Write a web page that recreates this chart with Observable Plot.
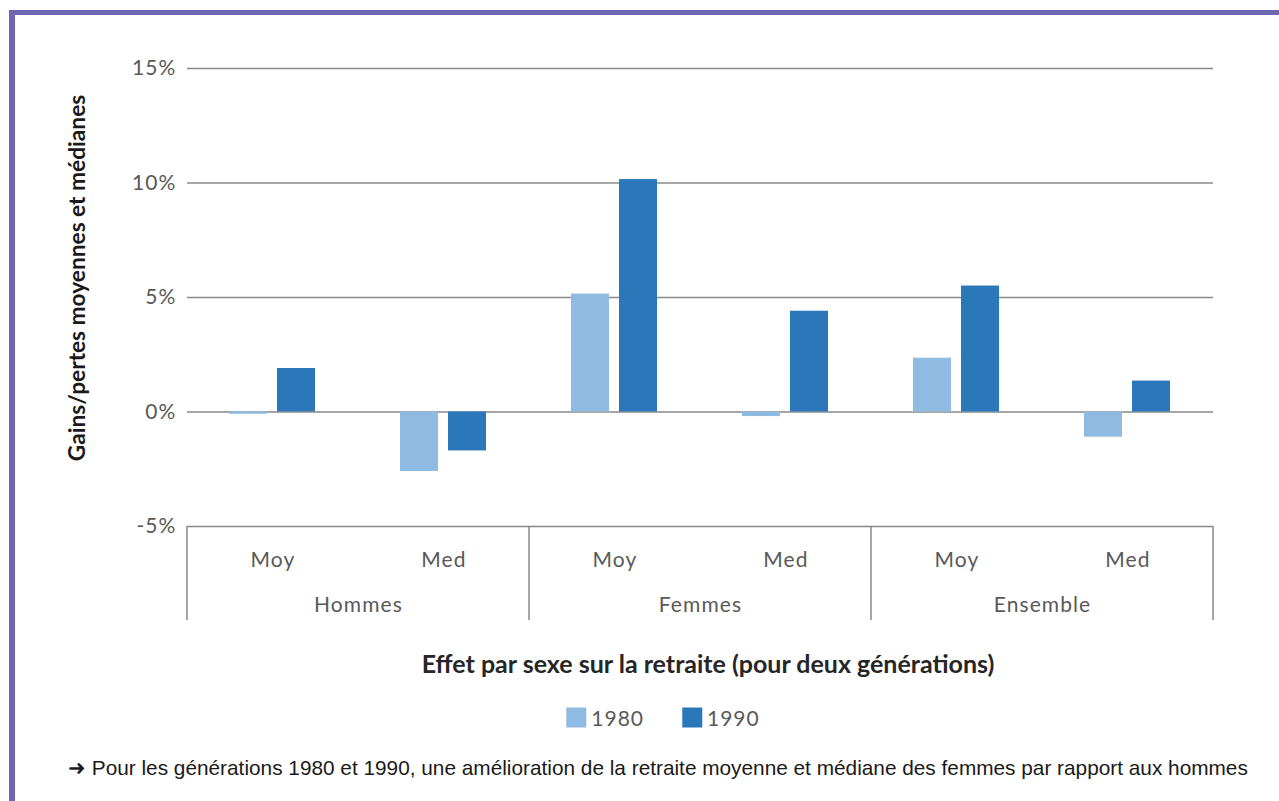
<!DOCTYPE html>
<html>
<head>
<meta charset="utf-8">
<script src="https://cdn.jsdelivr.net/npm/d3@7"></script>
<script src="https://cdn.jsdelivr.net/npm/@observablehq/plot@0.6"></script>
<style>
  html, body { margin: 0; padding: 0; background: #fff; }
  #page { position: relative; width: 1279px; height: 801px; overflow: hidden; background: #fff; }
  #borderTop { position: absolute; left: 9px; top: 10px; width: 1270px; height: 5px; background: #6e67b4; }
  #borderLeft { position: absolute; left: 9px; top: 10px; width: 6px; height: 791px; background: #6e67b4; }
  #chart { position: absolute; left: 0; top: 0; }
  #ylabel { position: absolute; left: 76px; top: 278px; transform: translate(-50%, -50%) rotate(-90deg);
            white-space: nowrap; font-family: Lato, sans-serif; font-weight: bold; font-size: 22.7px; color: #1a1a1a; }
  #xtitle { position: absolute; left: 708px; top: 663px; transform: translate(-50%, -50%);
            white-space: nowrap; font-family: Lato, sans-serif; font-weight: bold; font-size: 25px; color: #262626; }
  #legend { position: absolute; left: 663px; top: 717px; transform: translate(-50%, -50%);
            display: flex; align-items: center; font-family: Lato, sans-serif; font-size: 21px; letter-spacing: 1px; color: #595959; white-space: nowrap; }
  #legend .item { display: flex; align-items: center; margin: 0 19px; }
  #legend .sw { width: 20px; height: 20px; margin-right: 5px; }
  #caption { position: absolute; left: 68px; top: 768px; transform: translateY(-50%);
             white-space: nowrap; font-family: "Liberation Sans", Arial, sans-serif; font-size: 20.8px; color: #1a1a1a; }
</style>
</head>
<body>
<div id="page">
  <div id="borderTop"></div>
  <div id="borderLeft"></div>
  <div id="chart"></div>
  <div id="ylabel">Gains/pertes moyennes et médianes</div>
  <div id="xtitle">Effet par sexe sur la retraite (pour deux générations)</div>
  <div id="legend"></div>
  <div id="caption">➜ Pour les générations 1980 et 1990, une amélioration de la retraite moyenne et médiane des femmes par rapport aux hommes</div>
</div>
<script>
// ---- Data ----
const groups = ["Hommes", "Femmes", "Ensemble"];
const measures = ["Moy", "Med"];
const years = ["1980", "1990"];
// order: Hommes Moy, Hommes Med, Femmes Moy, Femmes Med, Ensemble Moy, Ensemble Med
const values1980 = [-0.1, -2.6, 5.15, -0.2, 2.35, -1.1];
const values1990 = [1.9, -1.7, 10.15, 4.4, 5.5, 1.35];
const yTicks = [-5, 0, 5, 10, 15];
const colors = ["#8fbbe2", "#2a78ba"];

// ---- Build table ----
const keys = [];
groups.forEach(g => measures.forEach(m => keys.push(g + "|" + m)));
const rows = [];
keys.forEach((k, i) => {
  rows.push({key: k, year: years[0], value: values1980[i]});
  rows.push({key: k, year: years[1], value: values1990[i]});
});

const font = "Lato, sans-serif";
const gray = "#595959";

const plot = Plot.plot({
  width: 1279,
  height: 640,
  marginLeft: 185,
  marginRight: 65,
  marginTop: 68,
  marginBottom: 114,
  style: {fontFamily: font, background: "transparent", overflow: "visible", letterSpacing: "1.1px"},
  fx: {domain: keys, padding: 0, axis: null},
  x: {domain: years, paddingInner: 0.204, paddingOuter: 0.852, axis: null},
  y: {domain: [-5, 15], axis: null},
  color: {domain: years, range: colors},
  marks: [
    Plot.ruleY(yTicks, {stroke: "#898989", strokeWidth: 1.5}),
    Plot.barY(rows, {fx: "key", x: "year", y: "value", fill: "year"}),
    Plot.axisY({ticks: yTicks, tickSize: 0, tickPadding: 11, tickFormat: d => d + "%",
                fontSize: 21, color: gray, label: null}),
    Plot.axisFx({domain: keys, anchor: "bottom", tickSize: 0, tickPadding: 26, fontSize: 21, color: gray,
                 tickFormat: k => k.split("|")[1], label: null}),
    Plot.text(groups, {fx: g => g + "|Moy", text: d => d, frameAnchor: "bottom-right",
                 textAnchor: "middle", lineAnchor: "middle", dy: 79, fontSize: 21, fill: gray})
  ]
});

document.getElementById("chart").appendChild(plot);

// Category separators derived from the library's scales
const fx = plot.scale("fx");
const y = plot.scale("y");
const svg = d3.select(plot);
const y0 = y.apply(-5);
const bounds = groups.map(g => fx.apply(g + "|Moy"));
bounds.push(fx.apply(groups[groups.length - 1] + "|Med") + fx.bandwidth);
svg.append("g").selectAll("line").data(bounds).join("line")
  .attr("x1", d => d).attr("x2", d => d)
  .attr("y1", y0).attr("y2", y0 + 94)
  .attr("stroke", "#898989").attr("stroke-width", 1.5);

// Legend
const legend = d3.select("#legend");
years.forEach((yr, i) => {
  const it = legend.append("div").attr("class", "item");
  it.append("div").attr("class", "sw").style("background", colors[i]);
  it.append("span").text(yr);
});
</script>
</body>
</html>
